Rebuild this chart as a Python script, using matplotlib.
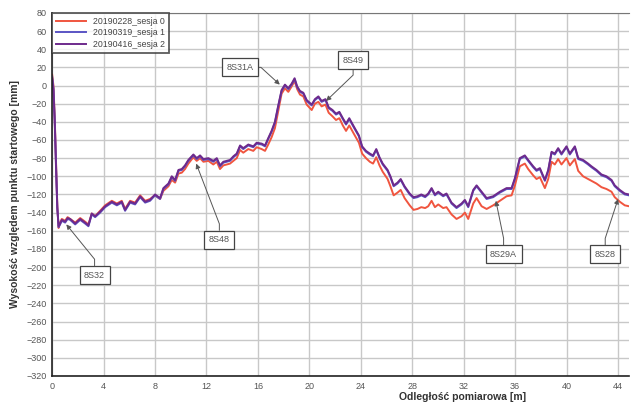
import matplotlib
matplotlib.use("Agg")
import matplotlib.pyplot as plt

plt.rcParams["font.family"] = ["Liberation Sans", "DejaVu Sans"]

# odległość pomiarowa [m] i wysokości profilu [mm] dla trzech sesji
DIST = [0.00, 0.10, 0.20, 0.30, 0.40, 0.50, 0.62, 0.75, 1.01, 1.20, 1.40, 1.79, 2.18, 2.56, 2.82,
        3.08, 3.34, 3.73, 4.12, 4.64, 5.03, 5.41, 5.67, 6.06, 6.45, 6.84, 7.23, 7.61, 8.00, 8.39,
        8.65, 9.04, 9.30, 9.56, 9.82, 10.08, 10.33, 10.59, 10.98, 11.24, 11.50, 11.76, 12.15, 12.53,
        12.80, 13.05, 13.31, 13.83, 14.09, 14.35, 14.61, 14.86, 15.25, 15.64, 15.90, 16.29, 16.55,
        16.80, 17.06, 17.32, 17.58, 17.84, 18.10, 18.36, 18.62, 18.85, 19.05, 19.27, 19.53, 19.79,
        20.18, 20.43, 20.70, 20.95, 21.25, 21.50, 21.80, 22.07, 22.33, 22.60, 22.85, 23.10, 23.45,
        23.85, 24.10, 24.40, 24.70, 24.95, 25.20, 25.45, 25.70, 26.08, 26.30, 26.55, 26.85, 27.10,
        27.40, 27.80, 28.10, 28.40, 28.70, 29.00, 29.24, 29.50, 29.76, 30.02, 30.40, 30.66, 31.05,
        31.44, 31.83, 32.09, 32.35, 32.74, 33.00, 33.39, 33.78, 34.29, 34.81, 35.33, 35.72, 35.98,
        36.36, 36.75, 37.01, 37.40, 37.66, 37.92, 38.31, 38.57, 38.83, 39.08, 39.34, 39.60, 39.99,
        40.25, 40.64, 40.90, 41.28, 41.67, 41.93, 42.32, 42.71, 43.10, 43.49, 43.74, 44.13, 44.52,
        44.85]

SESJA0 = [12, 0, -35, -85, -132, -157, -151, -147, -149, -145, -147, -151, -146, -150, -153,
          -141, -144, -138, -132, -127, -130, -127, -136, -127, -129, -121, -127, -125, -121, -125,
          -116, -111, -104, -107, -97, -96, -92, -86, -79, -83, -80, -84, -83, -87,
          -84, -92, -88, -86, -83, -80, -71, -74, -70, -72, -68, -70, -72,
          -65, -57, -47, -28, -9, -3, -7, -1, 5, -4, -10, -12, -21,
          -27, -20, -18, -23, -21, -30, -34, -38, -36, -44, -50, -44, -53,
          -63, -75, -80, -84, -86, -79, -88, -95, -103, -111, -121, -118, -115,
          -124, -132, -137, -136, -134, -135, -133, -127, -134, -131, -135, -134, -142,
          -147, -144, -140, -147, -130, -124, -133, -136, -132, -127, -122, -121, -110,
          -89, -86, -92, -99, -103, -101, -113, -103, -84, -87, -81, -87, -80,
          -88, -81, -94, -100, -103, -105, -108, -112, -114, -117, -123, -128, -132,
          -133]

SESJA1 = [10, -3, -38, -88, -134, -156, -153, -149, -151, -147, -148, -153, -148, -152, -155,
          -142, -145, -140, -134, -129, -132, -129, -138, -129, -131, -123, -129, -127, -121, -125,
          -114, -109, -101, -105, -94, -93, -89, -83, -77, -81, -78, -82, -81, -84,
          -81, -89, -85, -83, -79, -76, -67, -70, -66, -68, -64, -65, -67,
          -59, -51, -41, -23, -6, 0, -4, 1, 7, -2, -7, -9, -17,
          -22, -16, -13, -18, -16, -25, -28, -32, -30, -37, -43, -37, -46,
          -56, -68, -73, -76, -78, -71, -80, -87, -94, -101, -111, -108, -104,
          -112, -120, -124, -123, -121, -123, -120, -114, -121, -118, -122, -120, -130,
          -135, -131, -127, -134, -116, -111, -118, -125, -123, -118, -114, -114, -103,
          -81, -78, -83, -90, -94, -92, -105, -94, -74, -76, -70, -76, -68,
          -76, -68, -81, -83, -87, -90, -94, -99, -101, -105, -111, -116, -120,
          -121]

SESJA2 = [8, -5, -40, -90, -135, -155, -152, -148, -150, -146, -147, -152, -147, -151, -154,
          -141, -144, -139, -133, -128, -131, -128, -137, -128, -130, -122, -128, -126, -120, -124,
          -113, -108, -100, -104, -93, -92, -88, -82, -76, -80, -77, -81, -80, -83,
          -80, -88, -84, -82, -78, -75, -66, -69, -65, -67, -63, -64, -66,
          -58, -50, -40, -22, -5, 1, -3, 2, 8, -1, -6, -8, -16,
          -21, -15, -12, -17, -15, -24, -27, -31, -29, -36, -42, -36, -45,
          -55, -67, -72, -75, -77, -70, -79, -86, -93, -100, -110, -107, -103,
          -111, -119, -123, -122, -120, -122, -119, -113, -120, -117, -121, -119, -129,
          -134, -130, -126, -133, -115, -110, -117, -124, -122, -117, -113, -113, -102,
          -80, -77, -82, -89, -93, -91, -104, -93, -73, -75, -69, -75, -67,
          -75, -67, -80, -82, -86, -89, -93, -98, -100, -104, -110, -115, -119,
          -120]

SERIES = ["20190228_sesja 0", "20190319_sesja 1", "20190416_sesja 2"]
COLORS = ["#f0553f", "#5a54c4", "#6e2a8c"]

# punkty osnowy: nazwa, (x, y) punktu, (x, y) etykiety
POINTS = ["8S32", "8S48", "8S31A", "8S49", "8S29A", "8S28"]
POINT_XY = [(1.1, -153), (11.2, -86), (17.7, 1), (21.3, -17), (34.5, -127), (44.0, -125)]
LABEL_XY = [(3.3, -209), (13.0, -170), (14.6, 20), (23.4, 28), (35.1, -186), (43.0, -186)]

fig = plt.figure(figsize=(6.36, 4.03), dpi=100)
ax = fig.add_axes([0.082, 0.067, 0.907, 0.901])

for y, name, c in zip([SESJA0, SESJA1, SESJA2], SERIES, COLORS):
    ax.plot(DIST, y, color=c, lw=1.4, label=name)

ax.set_xlim(0, 44.85)
ax.set_ylim(-320, 80)
ax.set_xticks(range(0, 45, 4))
ax.set_yticks(range(-320, 81, 20))
ax.grid(True, color="#c8c8c8", lw=1.0)
ax.set_axisbelow(True)
ax.tick_params(length=0, labelsize=6.5, labelcolor="#555555", pad=4)

for side in ("left", "bottom"):
    ax.spines[side].set_color("#222222")
    ax.spines[side].set_linewidth(1.2)
ax.spines["top"].set_color("#777777")
ax.spines["right"].set_visible(False)

ax.set_ylabel("Wysokość względem punktu startowego [mm]", fontsize=7.5,
              fontweight="bold", color="#333333")
ax.yaxis.set_label_coords(-0.056, 0.5)
ax.set_xlabel("Odległość pomiarowa [m]", fontsize=7.5, fontweight="bold", color="#333333")
ax.xaxis.set_label_coords(0.712, -0.045)

# odnośniki: krótki odcinek prosty od ramki, potem skos do punktu
for name, pt, lab in zip(POINTS, POINT_XY, LABEL_XY):
    if name == "8S31A":
        conn = "arc,angleA=0,armA=21,angleB=0,armB=0,rad=0"
    elif name == "8S49":
        conn = "arc,angleA=-90,armA=15,angleB=0,armB=0,rad=0"
    else:
        conn = "arc,angleA=90,armA=16,angleB=0,armB=0,rad=0"
    ax.annotate(name, xy=pt, xytext=lab, fontsize=6.5, color="#555555",
                ha="center", va="center",
                bbox=dict(boxstyle="square,pad=0.5", fc="white", ec="#444444", lw=0.9),
                arrowprops=dict(arrowstyle="-|>", color="#555555", lw=0.7,
                                mutation_scale=7, shrinkA=0, shrinkB=0,
                                connectionstyle=conn))

leg = ax.legend(loc="upper left", fontsize=6.3, frameon=True, fancybox=False,
                handlelength=3.4, borderaxespad=0, borderpad=0.45, labelspacing=0.3,
                handletextpad=0.8)
leg.get_frame().set_edgecolor("#333333")
leg.get_frame().set_linewidth(1.3)
for t in leg.get_texts():
    t.set_color("#444444")

fig.savefig("out.png", dpi=100, facecolor="white")
